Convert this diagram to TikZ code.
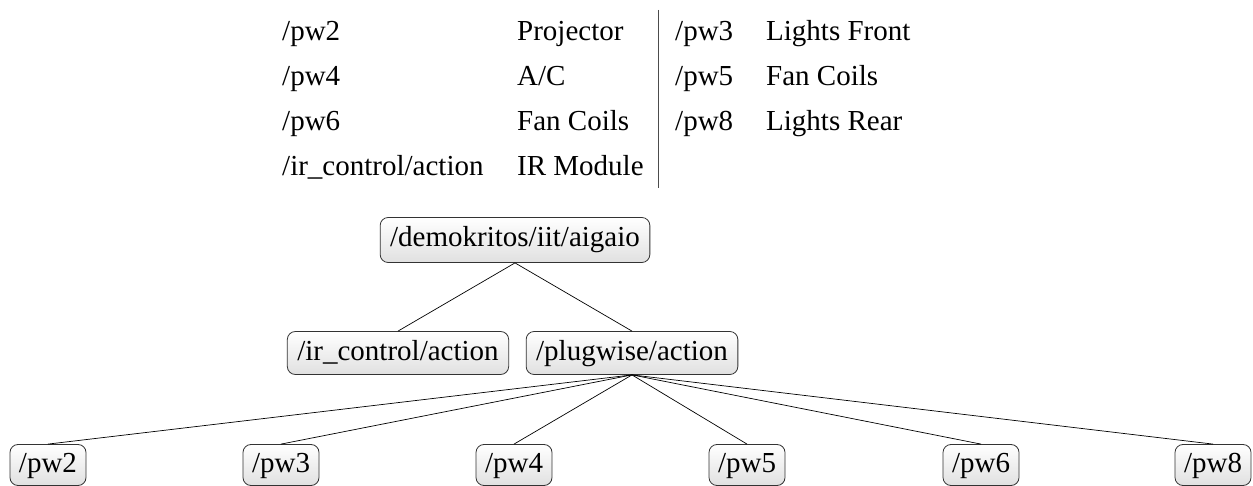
\documentclass[tikz,border=0pt]{standalone}
\usepackage{fontspec}
\setmainfont{Liberation Serif}
\begin{document}
\begin{tikzpicture}[x=1pt,y=-1pt,
  every node/.style={font=\fontsize{29}{34}\selectfont},
  tnode/.style={draw=black!80, line width=0.8pt, rounded corners=8pt,
    top color=white, bottom color=black!12, inner xsep=10pt,
    minimum height=43pt, text height=21pt, text depth=7pt},
  leaf/.style={tnode, inner xsep=9pt, minimum height=41pt},
  cell/.style={anchor=base west, inner sep=0pt},
  edge/.style={draw=black, line width=0.7pt}]
\useasboundingbox (0,0) rectangle (1253,486);

% lookup table of plugwise ids
\node[cell] (a1) at (282,41) {/pw2};
\node[cell] (a2) at (282,86) {/pw4};
\node[cell] (a3) at (282,131) {/pw6};
\node[cell] (a4) at (282,176) {/ir\_control/action};
\node[cell] (b1) at (517,41) {Projector};
\node[cell] (b2) at (517,86) {A/C};
\node[cell] (b3) at (517,131) {Fan Coils};
\node[cell] (b4) at (517,176) {IR Module};
\coordinate (sepTop) at (658,10);
\coordinate (sepBot) at (658,188);
\draw[black!70, line width=1pt] (sepTop) -- (sepBot);
\node[cell] (c1) at (675,41) {/pw3};
\node[cell] (c2) at (675,86) {/pw5};
\node[cell] (c3) at (675,131) {/pw8};
\node[cell] (d1) at (766,41) {Lights Front};
\node[cell] (d2) at (766,86) {Fan Coils};
\node[cell] (d3) at (766,131) {Lights Rear};

% topic tree
\node[tnode, minimum height=45pt] (root) at (515,240) {/demokritos/iit/aigaio};
\node[tnode] (ir) at (398,353) {/ir\_control/action};
\node[tnode] (pw) at (632,353) {/plugwise/action};
\node[leaf] (pw2) at (48,465) {/pw2};
\node[leaf] (pw3) at (281,465) {/pw3};
\node[leaf] (pw4) at (514,465) {/pw4};
\node[leaf] (pw5) at (747,465) {/pw5};
\node[leaf] (pw6) at (981,465) {/pw6};
\node[leaf] (pw8) at (1213,465) {/pw8};

\draw[edge] (root.south) -- (ir.north);
\draw[edge] (root.south) -- (pw.north);
\foreach \n in {pw2,pw3,pw4,pw5,pw6,pw8}
  \draw[edge] (pw.south) -- (\n.north);
\end{tikzpicture}
\end{document}
